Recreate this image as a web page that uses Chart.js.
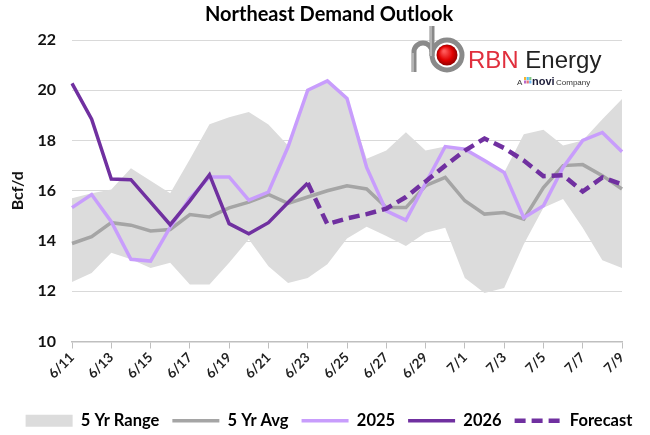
<!DOCTYPE html>
<html>
<head>
<meta charset="utf-8">
<script src="https://cdn.jsdelivr.net/npm/chart.js@4"></script>
<style>
  body { margin: 0; background: #fff; }
  #wrap { width: 650px; height: 435px; }
</style>
</head>
<body>
<div id="wrap"><canvas id="chart1" width="650" height="435"></canvas></div>
<script>
var labels = ['6/11','6/12','6/13','6/14','6/15','6/16','6/17','6/18','6/19','6/20',
  '6/21','6/22','6/23','6/24','6/25','6/26','6/27','6/28','6/29','6/30',
  '7/1','7/2','7/3','7/4','7/5','7/6','7/7','7/8','7/9'];

var rangeHigh = [15.7, 15.9, 16.05, 16.9, 16.4, 15.9, 17.25, 18.65, 18.93, 19.13,
  18.64, 17.8, 20.0, 20.37, 19.67, 17.27, 17.6, 18.33, 17.6, 17.76,
  17.7, 17.2, 16.73, 18.25, 18.43, 17.8, 18.0, 18.85, 19.65];
var rangeLow = [12.37, 12.73, 13.53, 13.27, 12.93, 13.13, 12.27, 12.27, 13.13, 14.07,
  13.0, 12.33, 12.53, 13.07, 14.1, 14.57, 14.2, 13.8, 14.33, 14.53,
  12.53, 11.93, 12.13, 13.87, 15.32, 15.67, 14.53, 13.23, 12.93];
var avg5 = [13.9, 14.17, 14.73, 14.63, 14.4, 14.46, 15.05, 14.96, 15.32, 15.55,
  15.85, 15.5, 15.75, 16.0, 16.2, 16.07, 15.33, 15.33, 16.2, 16.53,
  15.6, 15.07, 15.13, 14.87, 16.13, 17.0, 17.04, 16.6, 16.07];
var y2025 = [15.33, 15.85, 14.77, 13.27, 13.2, 14.55, 15.7, 16.55, 16.55, 15.63,
  15.95, 17.75, 20.0, 20.37, 19.67, 16.93, 15.2, 14.83, 16.3, 17.76,
  17.65, 17.2, 16.73, 14.93, 15.4, 16.93, 18.0, 18.32, 17.55];
var y2026 = [20.27, 18.85, 16.47, 16.44, 15.55, 14.65, 15.6, 16.64, 14.69, 14.29,
  14.73, 15.53, 16.31];
var forecast = [null, null, null, null, null, null, null, null, null, null,
  null, null, 16.31, 14.67, 14.9, 15.07, 15.29, 15.75, 16.37, 17.0,
  17.6, 18.08, 17.7, 17.2, 16.58, 16.62, 15.97, 16.53, 16.26];

var FONT = 'Lato';

// RBN logo drawn in the top right corner
var logoPlugin = {
  id: 'logo',
  afterDraw: function(chart) {
    var ctx = chart.ctx;
    ctx.save();
    ctx.lineCap = 'butt';
    // pipe
    ctx.strokeStyle = '#8a8a8a';
    ctx.lineWidth = 5;
    ctx.beginPath();
    ctx.moveTo(432, 26);
    ctx.lineTo(432, 56);
    ctx.stroke();
    ctx.beginPath();
    ctx.arc(447, 55, 15, 0, Math.PI * 2);
    ctx.stroke();
    ctx.beginPath();
    ctx.moveTo(414, 72);
    ctx.lineTo(414, 52);
    ctx.arc(423, 52, 9, Math.PI, Math.PI * 2);
    ctx.stroke();
    ctx.strokeStyle = '#cfcfcf';
    ctx.lineWidth = 1.2;
    ctx.beginPath();
    ctx.moveTo(431, 26);
    ctx.lineTo(431, 56);
    ctx.moveTo(413, 72);
    ctx.lineTo(413, 53);
    ctx.stroke();
    // red ball
    var g = ctx.createRadialGradient(444, 51, 1, 447, 55, 11);
    g.addColorStop(0, '#ff5a5a');
    g.addColorStop(0.6, '#e00000');
    g.addColorStop(1, '#8c0000');
    ctx.fillStyle = g;
    ctx.beginPath();
    ctx.arc(447, 55, 10.5, 0, Math.PI * 2);
    ctx.fill();
    // text
    ctx.textBaseline = 'alphabetic';
    ctx.font = '24px "Liberation Sans"';
    ctx.fillStyle = '#e02f3d';
    ctx.fillText('RBN', 468, 68);
    var w = ctx.measureText('RBN ').width;
    ctx.fillStyle = '#222';
    ctx.fillText('Energy', 468 + w, 68);
    ctx.font = '8px "Liberation Sans"';
    ctx.fillStyle = '#333';
    ctx.fillText('A', 517, 85);
    var cols = ['#f7b32b', '#4fc3f7', '#81c784', '#ba68c8', '#e57373', '#64b5f6'];
    for (var i = 0; i < 6; i++) {
      ctx.fillStyle = cols[i];
      ctx.fillRect(524 + (i % 3) * 2.6, 77 + Math.floor(i / 3) * 3.5, 2.2, 3);
    }
    ctx.font = 'bold 11px "Liberation Sans"';
    ctx.fillStyle = '#1d1d3a';
    ctx.fillText('novi', 532, 85);
    ctx.font = '8px "Liberation Sans"';
    ctx.fillStyle = '#333';
    ctx.fillText('Company', 556, 85);
    ctx.restore();
  }
};

var ctx = document.getElementById('chart1').getContext('2d');
new Chart(ctx, {
  type: 'line',
  data: {
    labels: labels,
    datasets: [
      { label: '5 Yr Range', data: rangeHigh, fill: 1, backgroundColor: '#dcdcdc',
        borderColor: '#dcdcdc', borderWidth: 0, pointRadius: 0, pointStyle: 'rect', order: 10 },
      { label: 'low', data: rangeLow, fill: false, borderWidth: 0, pointRadius: 0,
        borderColor: 'rgba(0,0,0,0)', order: 11 },
      { label: '5 Yr Avg', data: avg5, borderColor: '#a5a5a5', backgroundColor: '#a5a5a5',
        borderWidth: 3.5, pointRadius: 0, pointStyle: 'line', order: 4 },
      { label: '2025', data: y2025, borderColor: '#c89dfc', backgroundColor: '#c89dfc',
        borderWidth: 3.5, pointRadius: 0, pointStyle: 'line', order: 3 },
      { label: '2026', data: y2026, borderColor: '#7030a0', backgroundColor: '#7030a0',
        borderWidth: 3.5, pointRadius: 0, pointStyle: 'line', order: 2 },
      { label: 'Forecast', data: forecast, borderColor: '#7030a0', backgroundColor: '#7030a0',
        borderWidth: 4.5, borderDash: [11, 6], pointRadius: 0, pointStyle: 'line', order: 1 }
    ]
  },
  options: {
    responsive: false,
    animation: false,
    layout: { padding: { left: 8, right: 0, top: 3, bottom: -4 } },
    plugins: {
      title: {
        display: true,
        text: 'Northeast Demand Outlook',
        color: '#000',
        font: { family: FONT, size: 20, weight: 'bold' },
        padding: { top: 0, bottom: 13 }
      },
      legend: {
        position: 'bottom',
        labels: {
          color: '#262626',
          font: { family: FONT, size: 16.5, weight: 'bold' },
          usePointStyle: true,
          pointStyleWidth: 47,
          boxHeight: 12,
          padding: 13,
          generateLabels: function(chart) {
            return chart.data.datasets.map(function(ds, i) {
              return {
                text: ds.label, datasetIndex: i, hidden: false,
                fillStyle: ds.backgroundColor, strokeStyle: ds.borderColor,
                lineWidth: ds.borderWidth, lineDash: ds.borderDash || [],
                pointStyle: ds.pointStyle
              };
            });
          },
          filter: function(item) { return item.text !== 'low'; }
        }
      },
      tooltip: { enabled: false }
    },
    scales: {
      x: {
        grid: {
          drawOnChartArea: false,
          drawTicks: true,
          tickLength: 7,
          color: function(c) { return c.index % 2 === 0 ? '#bfbfbf' : 'rgba(0,0,0,0)'; }
        },
        border: { display: true, color: '#bfbfbf', width: 1.5 },
        ticks: {
          autoSkip: false,
          maxRotation: 45,
          minRotation: 45,
          padding: 1,
          color: '#222',
          font: { family: FONT, size: 13.5, weight: 'bold' },
          callback: function(v, i) { return i % 2 === 0 ? labels[i] : ''; }
        },
        afterFit: function(s) { s.height = 58; }
      },
      y: {
        min: 10,
        max: 22,
        ticks: {
          stepSize: 2,
          padding: 16,
          color: '#111',
          font: { family: FONT, size: 16, weight: 'bold' }
        },
        grid: { color: '#d9d9d9', lineWidth: 1, drawTicks: false },
        border: { display: false },
        title: {
          display: true,
          text: 'Bcf/d',
          color: '#111',
          font: { family: FONT, size: 16, weight: 'bold' },
          padding: { top: 0, bottom: 0 }
        },
        afterFit: function(s) { s.width = 64; }
      },
      yRight: {
        position: 'right',
        display: true,
        grid: { display: false },
        border: { display: false },
        ticks: { display: false },
        afterFit: function(s) { s.width = 28; }
      }
    }
  },
  plugins: [logoPlugin]
});
</script>
</body>
</html>
